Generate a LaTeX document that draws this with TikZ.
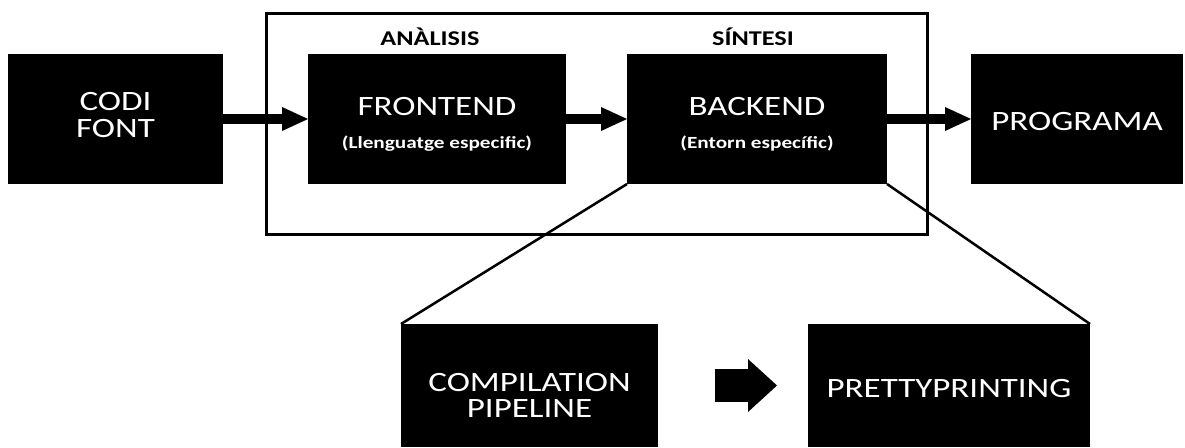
\documentclass[tikz,border=0pt]{standalone}
\usepackage{fontspec}
\setmainfont{Carlito}
\usepackage{graphicx}
\usetikzlibrary{arrows.meta}

% widened lettering used throughout the diagram
\newcommand{\stretchtext}[1]{\scalebox{1.25}[1]{#1}}
% smaller bold second line inside a stage box
\newcommand{\subline}[1]{{\bfseries\fontsize{17}{33}\selectfont\stretchtext{#1}}}

\begin{document}
\begin{tikzpicture}[x=1pt, y=-1pt,
  blackbox/.style={fill=black, text=white, inner sep=0pt, outer sep=0pt,
    align=center, font=\fontsize{28}{27}\selectfont},
  phase/.style={font=\bfseries\fontsize{21}{24}\selectfont, anchor=base, inner sep=0pt},
  flow/.style={line width=10pt, -{Triangle[length=26pt, width=24pt, line width=0pt]}},
  bigflow/.style={line width=33pt, -{Triangle[length=29pt, width=53pt, line width=0pt]}},
  zoomline/.style={line width=2.5pt},
]
\useasboundingbox (0,0) rectangle (1185,447);
\fill[white] (0,0) rectangle (1185,447);

% compiler frame
\node[draw, line width=3pt, inner sep=0pt, minimum width=661pt, minimum height=221pt] (frame) at (597,124) {};

% phase captions
\node[phase] (ana) at (430,45) {\stretchtext{ANÀLISIS}};
\node[phase] (sin) at (753,45) {\stretchtext{SÍNTESI}};

% main pipeline
\node[blackbox, minimum width=215pt, minimum height=130pt, text height=45pt, text depth=9pt]
  (src) at (115.5,119) {\stretchtext{CODI}\\\stretchtext{FONT}};
\node[blackbox, font=\fontsize{28}{33}\selectfont, minimum width=258pt, minimum height=130pt,
  text height=58pt, text depth=0pt]
  (front) at (437,119) {\stretchtext{FRONTEND}\\\subline{(Llenguatge especific)}};
\node[blackbox, font=\fontsize{28}{33}\selectfont, minimum width=260pt, minimum height=130pt,
  text height=58pt, text depth=0pt]
  (back) at (757,119) {\stretchtext{BACKEND}\\\subline{(Entorn específic)}};
\node[blackbox, minimum width=212pt, minimum height=130pt, text height=22pt, text depth=0pt]
  (prog) at (1077,119) {\stretchtext{PROGRAMA}};

% backend detail
\node[blackbox, font=\fontsize{28}{25.5}\selectfont, minimum width=257pt, minimum height=123pt,
  text height=63pt, text depth=0pt]
  (comp) at (529.5,385.5) {\stretchtext{COMPILATION}\\\stretchtext{PIPELINE}};
\node[blackbox, minimum width=282pt, minimum height=123pt, text height=23pt, text depth=0pt]
  (pretty) at (949,385.5) {\stretchtext{PRETTYPRINTING}};

% connectors
\draw[flow] (src.east) -- (front.west);
\draw[flow] (front.east) -- (back.west);
\draw[flow] (back.east) -- (prog.west);
\draw[bigflow, shorten <=57pt, shorten >=31pt] (comp.east) -- (pretty.west);
\draw[zoomline] (back.south west) -- (comp.north west);
\draw[zoomline] (back.south east) -- (pretty.north east);
\end{tikzpicture}
\end{document}
